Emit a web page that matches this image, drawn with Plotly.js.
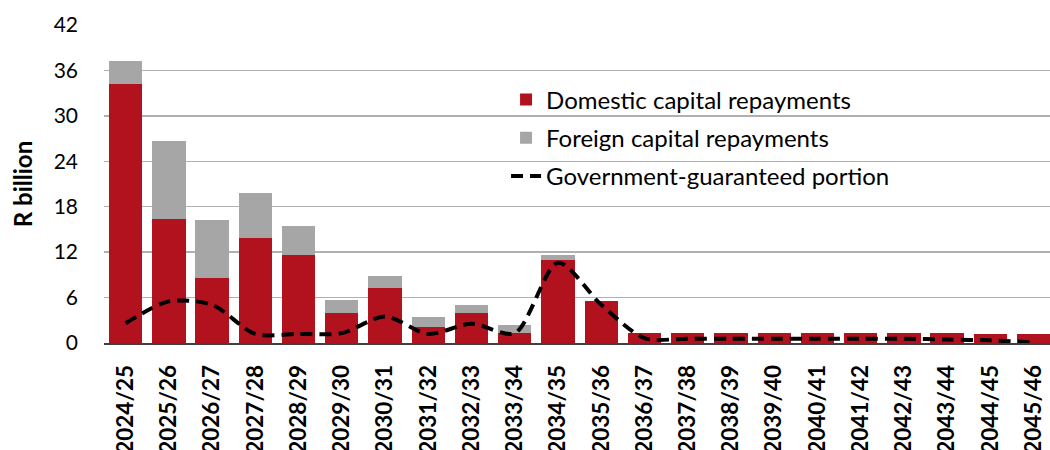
<!DOCTYPE html>
<html>
<head>
<meta charset="utf-8">
<script src="https://cdn.plot.ly/plotly-3.0.1.min.js"></script>
<style>html,body{margin:0;padding:0;background:#fff;}#chart{width:1050px;height:450px;}</style>
</head>
<body>
<div id="chart"></div>
<script>
const categories = ["2024/25","2025/26","2026/27","2027/28","2028/29","2029/30","2030/31","2031/32","2032/33","2033/34","2034/35","2035/36","2036/37","2037/38","2038/39","2039/40","2040/41","2041/42","2042/43","2043/44","2044/45","2045/46"];
const domestic = [34.2, 16.4, 8.6, 13.9, 11.6, 4.0, 7.3, 2.1, 3.9, 1.3, 10.9, 5.5, 1.3, 1.3, 1.3, 1.3, 1.3, 1.3, 1.3, 1.3, 1.2, 1.2];
const foreign = [3.1, 10.3, 7.7, 5.9, 3.9, 1.7, 1.5, 1.3, 1.1, 1.1, 0.7, 0.1, 0, 0, 0, 0, 0, 0, 0, 0, 0, 0];
const guaranteed = [2.6, 5.5, 5.05, 1.2, 1.2, 1.3, 3.5, 1.2, 2.55, 1.3, 10.6, 5.05, 0.65, 0.57, 0.57, 0.57, 0.57, 0.57, 0.57, 0.45, 0.35, 0.08];
const yTicks = [0, 6, 12, 18, 24, 30, 36, 42];

const FONT = "Lato, 'Open Sans', sans-serif";

const traces = [
  {type:"bar", name:"Domestic capital repayments", x:categories, y:domestic,
   marker:{color:"#b2121d"}, legendgroup:"a"},
  {type:"bar", name:"Foreign capital repayments", x:categories, y:foreign,
   marker:{color:"#a6a6a6"}, legendgroup:"b"},
  {type:"scatter", mode:"lines", name:"Government-guaranteed portion", x:categories, y:guaranteed,
   line:{color:"#000", width:4, dash:"12px,7px", shape:"spline", smoothing:0.8}, legendgroup:"c"}
];

const layout = {
  width:1050, height:450,
  margin:{l:104, r:0, t:25, b:107},
  barmode:"stack", bargap:0.23,
  paper_bgcolor:"#fff", plot_bgcolor:"#fff",
  font:{family:FONT, color:"#000"},
  showlegend:true,
  legend:{x:0.425, y:0.835, xanchor:"left", yanchor:"top", bgcolor:"rgba(255,255,255,0)",
    font:{size:24, family:FONT, color:"#000"}, tracegroupgap:4, traceorder:"grouped"},
  xaxis:{type:"category", tickvals:categories, ticktext:categories, range:[-0.5, 21.38],
    tickangle:-90, tickfont:{size:22.5, family:FONT, color:"#000", weight:"bold"},
    showline:true, linecolor:"#404040", linewidth:2, ticks:"", ticklabelstandoff:11,
    showgrid:false, fixedrange:true},
  yaxis:{range:[0,42], tickvals:yTicks, ticktext:yTicks.map(String),
    tickfont:{size:21, family:FONT, color:"#000"},
    showgrid:true, gridcolor:"#b0b0b0", gridwidth:1.5, zeroline:false,
    ticks:"", ticklabelstandoff:25, showline:false,
    title:{text:"<b>R billion</b>", font:{size:24, family:FONT, color:"#000"}, standoff:14}}
};

Plotly.newPlot("chart", traces, layout, {staticPlot:true, displayModeBar:false});
</script>
</body>
</html>
